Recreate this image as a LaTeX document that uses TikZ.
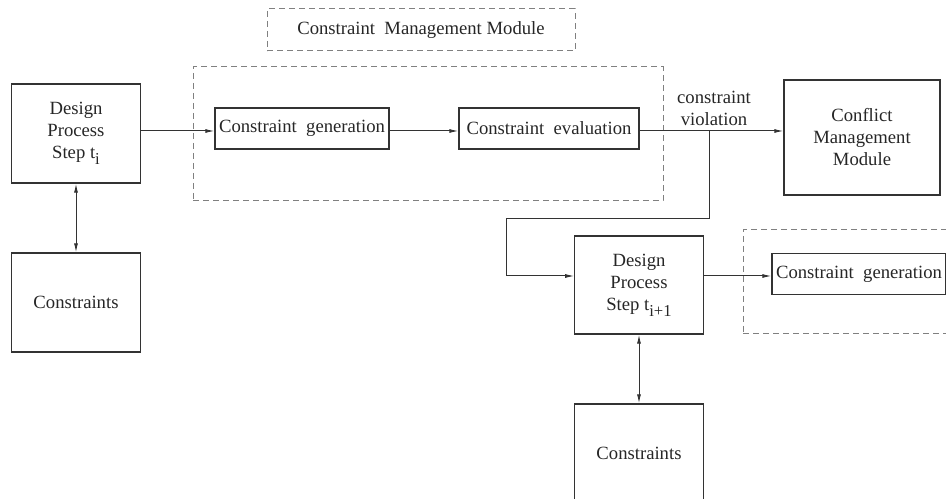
\documentclass[tikz,border=0pt]{standalone}
\usepackage{fontspec}
\setmainfont{Liberation Serif}
\usetikzlibrary{arrows.meta}
\newcommand{\lowsub}[1]{\raisebox{-3.6pt}{\fontsize{10}{10}\selectfont #1}}

\begin{document}
\begin{tikzpicture}[
  x=0.6pt, y=-0.6pt,
  font=\fontsize{11.2}{13.2}\selectfont,
  every node/.style={inner sep=0pt, align=center, text=black!85},
  block/.style={draw=black!80, line width=0.65pt, minimum width=77pt, minimum height=59.4pt},
  task/.style={draw=black!80, line width=0.65pt, minimum height=24.6pt},
  module/.style={draw=gray, line width=0.6pt, dash pattern=on 3.6pt off 2.4pt},
  link/.style={draw=black!80, line width=0.6pt, -{Latex[length=5.5pt,width=2.4pt]}},
  both/.style={draw=black!80, line width=0.6pt, {Latex[length=5.5pt,width=2.4pt]}-{Latex[length=5.5pt,width=2.4pt]}},
]
\useasboundingbox (0,0) rectangle (946,499);
\clip (0,0) rectangle (946,499);

% modules
\node[module, minimum width=184.8pt, minimum height=25.2pt] (title) at (421,30) {Constraint\ \ Management Module};
\node[module, minimum width=282pt, minimum height=80.4pt] (cmm) at (428,134) {};
\node[module, minimum width=282pt, minimum height=62.4pt] (cmm2) at (978,282) {};

% step t_i
\node[block] (step1) at (76,133.5) {Design\\Process\\Step t\lowsub{i}};
\node[block] (cons1) at (76,302.5) {Constraints};
\node[task, minimum width=104.4pt] (gen1) at (302,128.5) {Constraint\ \ generation};
\node[task, minimum width=108pt] (eval) at (549,128.5) {Constraint\ \ evaluation};
\node[block, minimum width=93.6pt, minimum height=69pt] (conflict) at (862,137.5) {Conflict\\Management\\Module};
\node (viol) at (714,108) {constraint\\violation};

% step t_i+1
\node[block, minimum height=58.8pt] (step2) at (639,285) {Design\\Process\\Step t\lowsub{i+1}};
\node[block] (cons2) at (639,453.5) {Constraints};
\node[task, minimum width=104.4pt] (gen2) at (859,274) {Constraint\ \ generation};

\coordinate (br) at (709,131);
\coordinate (turn) at (506,219);

\draw[link] (step1.east |- 0,131) -- (gen1.west |- 0,131);
\draw[link] (gen1.east |- 0,131) -- (eval.west |- 0,131);
\draw[link] (eval.east |- 0,131) -- (conflict.west |- 0,131);
\draw[link] (br) |- (turn) |- (step2.west |- 0,276);
\draw[link] (step2.east |- 0,276) -- (gen2.west |- 0,276);
\draw[both] (step1) -- (cons1);
\draw[both] (step2) -- (cons2);
\end{tikzpicture}
\end{document}
